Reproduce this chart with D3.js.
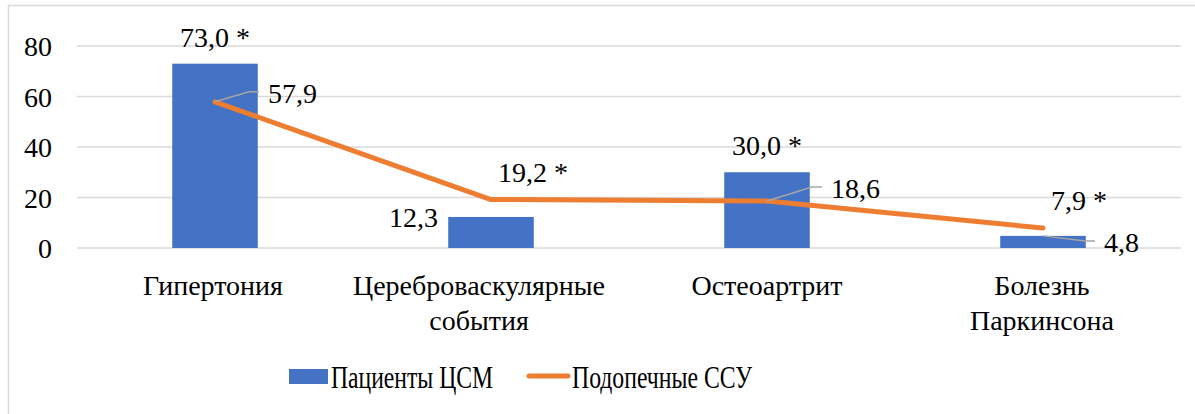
<!DOCTYPE html>
<meta charset="utf-8">
<script src="https://d3js.org/d3.v7.min.js"></script>
<style>
  body { margin: 0; background: #fff; }
</style>
<div id="my_dataviz"></div>
<script>
  // данные
  var categories = ["Гипертония", "Цереброваскулярные события", "Остеоартрит", "Болезнь Паркинсона"]
  var catLines = [["Гипертония"], ["Цереброваскулярные", "события"], ["Остеоартрит"], ["Болезнь", "Паркинсона"]]
  var barValues = [73.0, 12.3, 30.0, 4.8]
  var lineValues = [57.9, 19.2, 18.6, 7.9]
  var barLabels = ["73,0 *", "12,3", "30,0 *", "4,8"]
  var lineLabels = ["57,9", "19,2 *", "18,6", "7,9 *"]
  var yTicks = [0, 20, 40, 60, 80]
  var seriesNames = ["Пациенты ЦСМ", "Подопечные ССУ"]

  var W = 1195, H = 414
  var FONT = "'Liberation Serif', 'Times New Roman', serif"
  var margin = { top: 46, left: 77 },
    width = 1181 - margin.left,
    height = 248 - margin.top

  var svg = d3.select("#my_dataviz")
    .append("svg")
    .attr("width", W)
    .attr("height", H)

  // рамка (видны только верх и левый край)
  svg.append("polyline")
    .attr("points", "8.5," + H + " 8.5,5.5 " + W + ",5.5")
    .attr("fill", "none")
    .attr("stroke", "#d9d9d9")
    .attr("stroke-width", 1.5)

  var g = svg.append("g")
    .attr("transform", "translate(" + margin.left + "," + margin.top + ")")

  var x = d3.scaleBand()
    .range([0, width])
    .domain(categories)
    .paddingInner(0.69)
    .paddingOuter(0.345)

  var y = d3.scaleLinear()
    .domain([0, 80])
    .range([height, 0])

  // сетка
  g.selectAll("grid")
    .data(yTicks)
    .enter()
    .append("line")
    .attr("x1", 0)
    .attr("x2", width)
    .attr("y1", function (d) { return y(d) })
    .attr("y2", function (d) { return y(d) })
    .attr("stroke", "#d9d9d9")
    .attr("stroke-width", 1.3)

  // ось Y
  var yAxis = g.append("g").call(d3.axisLeft(y).tickValues(yTicks).tickSize(0).tickPadding(25))
  yAxis.select(".domain").remove()
  yAxis.selectAll("text")
    .attr("fill", "#000")
    .attr("dy", "0.35em")
    .style("font-family", FONT)
    .style("font-size", "28px")

  // подписи категорий
  var cx = function (i) { return x(categories[i]) + x.bandwidth() / 2 }
  var catShift = [-2, -12, 0, -1]
  catLines.forEach(function (lines, i) {
    var t = g.append("text")
      .attr("y", 249)
      .attr("text-anchor", "middle")
      .style("font-family", FONT)
      .style("font-size", "28px")
    lines.forEach(function (l, j) {
      t.append("tspan").attr("x", cx(i) + catShift[i]).attr("dy", j === 0 ? 0 : 35).text(l)
    })
  })

  // столбцы
  g.selectAll("bars")
    .data(barValues)
    .enter()
    .append("rect")
    .attr("x", function (d, i) { return x(categories[i]) })
    .attr("y", function (d) { return y(d) })
    .attr("width", x.bandwidth())
    .attr("height", function (d) { return y(0) - y(d) })
    .attr("fill", "#4472c4")

  // линия
  var line = d3.line()
    .x(function (d, i) { return cx(i) })
    .y(function (d) { return y(d) })
  g.append("path")
    .datum(lineValues)
    .attr("d", line)
    .attr("fill", "none")
    .attr("stroke", "#ed7d31")
    .attr("stroke-width", 5)
    .attr("stroke-linejoin", "round")
    .attr("stroke-linecap", "round")

  // положение подписей относительно точки
  var barLabelPos = [
    { dx: 0, dy: -17, anchor: "middle", leader: false },
    { dx: -53, dy: 10, anchor: "end", leader: false },
    { dx: 0, dy: -17, anchor: "middle", leader: false },
    { dx: 61, dy: 16, anchor: "start", leader: true }
  ]
  var lineLabelPos = [
    { dx: 53, dy: 1, anchor: "start", leader: true },
    { dx: 42, dy: -17.5, anchor: "middle", leader: false },
    { dx: 64, dy: -3, anchor: "start", leader: true },
    { dx: 36, dy: -18, anchor: "middle", leader: false }
  ]

  function addLabels(vals, labels, pos) {
    vals.forEach(function (v, i) {
      var p = pos[i]
      var px = cx(i), py = y(v)
      if (p.leader) {
        var ex = px + p.dx - 9, ey = py + p.dy - 11
        g.append("polyline")
          .attr("points", [[px, py], [ex - 10, ey], [ex, ey]].map(function (q) { return q.join(",") }).join(" "))
          .attr("fill", "none")
          .attr("stroke", "#a6a6a6")
          .attr("stroke-width", 1.5)
      }
      g.append("text")
        .attr("x", px + p.dx)
        .attr("y", py + p.dy)
        .attr("text-anchor", p.anchor)
        .style("font-family", FONT)
        .style("font-size", "28px")
        .text(labels[i])
    })
  }
  addLabels(barValues, barLabels, barLabelPos)
  addLabels(lineValues, lineLabels, lineLabelPos)

  // легенда
  var leg = svg.append("g").attr("transform", "translate(289,0)")
  leg.append("rect").attr("x", 0).attr("y", 369).attr("width", 39).attr("height", 15).attr("fill", "#4472c4")
  leg.append("text").attr("x", 42).attr("y", 388).style("font-family", FONT).style("font-size", "32px")
    .attr("textLength", 162).attr("lengthAdjust", "spacingAndGlyphs").text(seriesNames[0])
  leg.append("line").attr("x1", 240).attr("x2", 279).attr("y1", 376).attr("y2", 376)
    .attr("stroke", "#ed7d31").attr("stroke-width", 5).attr("stroke-linecap", "round")
  leg.append("text").attr("x", 283).attr("y", 388).style("font-family", FONT).style("font-size", "32px")
    .attr("textLength", 180).attr("lengthAdjust", "spacingAndGlyphs").text(seriesNames[1])
</script>
